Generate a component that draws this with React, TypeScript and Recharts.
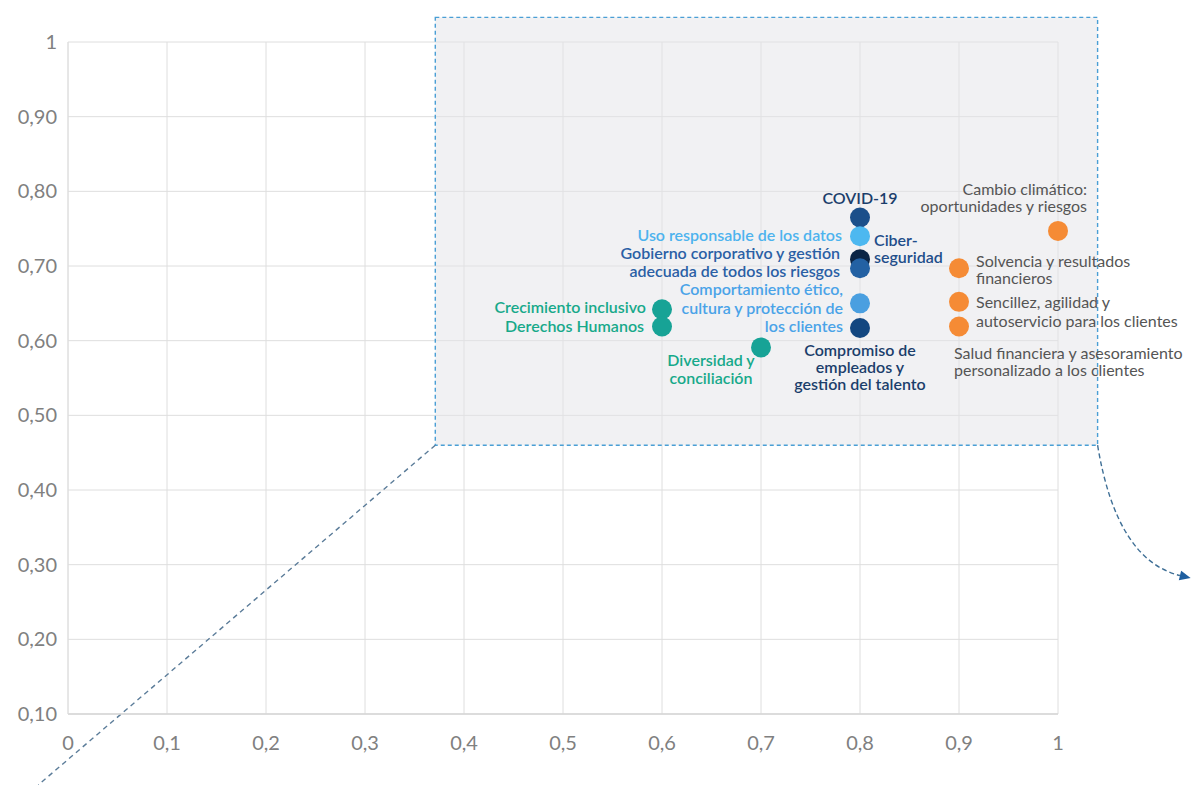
import React from 'react';
import {
  ScatterChart,
  Scatter,
  XAxis,
  YAxis,
  CartesianGrid,
  ReferenceArea,
  ReferenceLine,
} from 'recharts';

// Materiality topics: relevance for stakeholders (y) vs. relevance for the bank (x)
const topics = [
  'COVID-19',
  'Uso responsable de los datos',
  'Ciberseguridad',
  'Gobierno corporativo',
  'Comportamiento ético',
  'Compromiso de empleados',
  'Crecimiento inclusivo',
  'Derechos Humanos',
  'Diversidad y conciliación',
  'Cambio climático',
  'Solvencia',
  'Sencillez',
  'Salud financiera',
];
const xValues = [0.8, 0.8, 0.8, 0.8, 0.8, 0.8, 0.6, 0.6, 0.7, 1.0, 0.9, 0.9, 0.9];
const yValues = [0.765, 0.74, 0.709, 0.697, 0.65, 0.617, 0.642, 0.619, 0.591, 0.747, 0.697, 0.652, 0.619];
const labelLines = [
  ['COVID-19'],
  ['Uso responsable de los datos'],
  ['Ciber-', 'seguridad'],
  ['Gobierno corporativo y gestión', 'adecuada de todos los riesgos'],
  ['Comportamiento ético,', 'cultura y protección de', 'los clientes'],
  ['Compromiso de', 'empleados y', 'gestión del talento'],
  ['Crecimiento inclusivo'],
  ['Derechos Humanos'],
  ['Diversidad y', 'conciliación'],
  ['Cambio climático:', 'oportunidades y riesgos'],
  ['Solvencia y resultados', 'financieros'],
  ['Sencillez, agilidad y', 'autoservicio para los clientes'],
  ['Salud financiera y asesoramiento', 'personalizado a los clientes'],
];

const xTicks = [0, 0.1, 0.2, 0.3, 0.4, 0.5, 0.6, 0.7, 0.8, 0.9, 1];
const yTicks = [0.1, 0.2, 0.3, 0.4, 0.5, 0.6, 0.7, 0.8, 0.9, 1];

const points = topics.map((name, i) => ({
  name,
  x: xValues[i],
  y: yValues[i],
  lines: labelLines[i],
}));

const TEAL = '#17a396';
const TEAL_TEXT = '#17a98a';
const ORANGE = '#f58b35';
const GREY_TEXT = '#555555';

// dot colour, label colour, label placement relative to the dot
type LabelStyle = {
  dot: string;
  text: string;
  anchor: 'start' | 'middle' | 'end';
  dx: number;
  dy: number;
  lh: number;
  bold: boolean;
};

const styles: Record<string, LabelStyle> = {
  'COVID-19': { dot: '#1b4f8a', text: '#1b3e6b', anchor: 'middle', dx: 0, dy: -13, lh: 17, bold: true },
  'Uso responsable de los datos': { dot: '#4db8f0', text: '#4db3ee', anchor: 'end', dx: -18, dy: 5, lh: 17, bold: true },
  Ciberseguridad: { dot: '#0b2545', text: '#1f4e8a', anchor: 'start', dx: 14, dy: -13, lh: 17, bold: true },
  'Gobierno corporativo': { dot: '#2361a3', text: '#2a5fa5', anchor: 'end', dx: -20, dy: -9, lh: 18, bold: true },
  'Comportamiento ético': { dot: '#4a9fe0', text: '#4aa3e8', anchor: 'end', dx: -17, dy: -8, lh: 18.5, bold: true },
  'Compromiso de empleados': { dot: '#134780', text: '#1b3e6b', anchor: 'middle', dx: 0, dy: 28, lh: 17, bold: true },
  'Crecimiento inclusivo': { dot: TEAL, text: TEAL_TEXT, anchor: 'end', dx: -16, dy: 4, lh: 17, bold: true },
  'Derechos Humanos': { dot: TEAL, text: TEAL_TEXT, anchor: 'end', dx: -18, dy: 6, lh: 17, bold: true },
  'Diversidad y conciliación': { dot: TEAL, text: TEAL_TEXT, anchor: 'middle', dx: -50, dy: 19, lh: 18, bold: true },
  'Cambio climático': { dot: ORANGE, text: GREY_TEXT, anchor: 'end', dx: 29, dy: -36, lh: 17, bold: false },
  Solvencia: { dot: ORANGE, text: GREY_TEXT, anchor: 'start', dx: 17, dy: -1, lh: 17, bold: false },
  Sencillez: { dot: ORANGE, text: GREY_TEXT, anchor: 'start', dx: 17, dy: 6, lh: 19, bold: false },
  'Salud financiera': { dot: ORANGE, text: GREY_TEXT, anchor: 'start', dx: -5, dy: 33, lh: 17, bold: false },
};

const FONT = 'Lato, "Open Sans", sans-serif';

function TopicDot(props: any) {
  const { cx, cy, payload } = props;
  const s = styles[payload.name];
  return (
    <g>
      <circle cx={cx} cy={cy} r={10} fill={s.dot} />
      <text
        x={cx + s.dx}
        y={cy + s.dy}
        textAnchor={s.anchor}
        fill={s.text}
        fontFamily={FONT}
        fontSize={16}
        fontWeight={s.bold ? 600 : 400}
      >
        {payload.lines.map((line: string, i: number) => (
          <tspan key={i} x={cx + s.dx} dy={i === 0 ? 0 : s.lh}>
            {line}
          </tspan>
        ))}
      </text>
    </g>
  );
}

// dashed curve with arrowhead leading out of the zoom box
function CurvedArrow(props: any) {
  const { x1, y1, x2, y2 } = props;
  const cx = x1 + 19;
  const cy = y2 - 18;
  const ang = Math.atan2(y2 - cy, x2 - cx);
  const len = 11;
  const w = 5;
  const bx = x2 - len * Math.cos(ang);
  const by = y2 - len * Math.sin(ang);
  const px = -Math.sin(ang) * w;
  const py = Math.cos(ang) * w;
  return (
    <g>
      <path
        d={`M${x1},${y1} Q${cx},${cy} ${bx},${by}`}
        fill="none"
        stroke="#3f6f96"
        strokeWidth={1.4}
        strokeDasharray="5 3"
      />
      <polygon points={`${x2},${y2} ${bx + px},${by + py} ${bx - px},${by - py}`} fill="#1f5fa0" />
    </g>
  );
}

const fmtY = (v: number) => (v === 1 ? '1' : v.toFixed(2).replace('.', ','));
const fmtX = (v: number) => (v === 0 ? '0' : v === 1 ? '1' : v.toFixed(1).replace('.', ','));

const tickStyle = { fontSize: 20, fill: '#808080', fontFamily: FONT };

export default function App() {
  return (
    <div style={{ position: 'absolute', top: 0, left: 0, width: 1191, height: 785, background: '#ffffff' }}>
      <ScatterChart width={1191} height={785} margin={{ top: 42, right: 133, left: 8, bottom: 41 }}>
        <CartesianGrid stroke="#dedede" />
        <XAxis
          type="number"
          dataKey="x"
          domain={[0, 1]}
          ticks={xTicks}
          tickFormatter={fmtX}
          tick={tickStyle}
          tickLine={false}
          tickSize={0}
          tickMargin={22}
          height={30}
          axisLine={{ stroke: '#d6d6d6', strokeWidth: 1.5 }}
        />
        <YAxis
          type="number"
          dataKey="y"
          domain={[0.1, 1]}
          ticks={yTicks}
          tickFormatter={fmtY}
          tick={tickStyle}
          tickLine={false}
          tickSize={0}
          tickMargin={11}
          width={60}
          axisLine={{ stroke: '#dedede' }}
        />
        <ReferenceArea
          x1={0.371}
          x2={1.04}
          y1={0.46}
          y2={1.033}
          ifOverflow="visible"
          fill="#e3e4e7"
          fillOpacity={0.5}
          stroke="#4a9fd5"
          strokeWidth={1.4}
          strokeDasharray="4 3"
        />
        <ReferenceLine
          segment={[
            { x: 0.371, y: 0.46 },
            { x: -0.03, y: 0.005 },
          ]}
          ifOverflow="visible"
          stroke="#5b7c99"
          strokeWidth={1.4}
          strokeDasharray="5 4"
        />
        <ReferenceLine
          segment={[
            { x: 1.04, y: 0.46 },
            { x: 1.134, y: 0.282 },
          ]}
          ifOverflow="visible"
          shape={CurvedArrow}
        />
        <Scatter data={points} shape={TopicDot} isAnimationActive={false} />
      </ScatterChart>
    </div>
  );
}
